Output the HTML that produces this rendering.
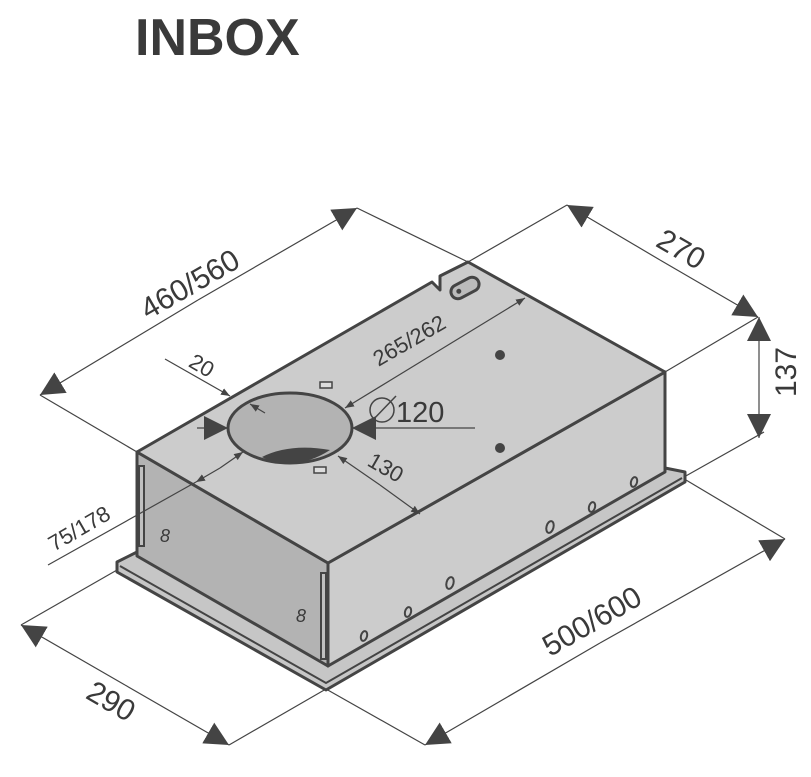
<!DOCTYPE html>
<html><head><meta charset="utf-8"><style>
html,body{margin:0;padding:0;background:#fff;width:811px;height:777px;overflow:hidden}
svg{display:block}
text{font-family:"Liberation Sans",sans-serif;fill:#3a3a3a}
</style></head><body>
<svg width="811" height="777" viewBox="0 0 811 777" xmlns="http://www.w3.org/2000/svg">
<defs>
<marker id="a" viewBox="0 0 10 10" refX="10" refY="5" markerWidth="14" markerHeight="14" markerUnits="userSpaceOnUse" orient="auto"><path d="M0,0L10,5L0,10z" fill="#444"/></marker>
<marker id="as" viewBox="0 0 10 10" refX="10" refY="5" markerWidth="9" markerHeight="9" markerUnits="userSpaceOnUse" orient="auto"><path d="M0,1L10,5L0,9z" fill="#444"/></marker>
<marker id="ab" viewBox="0 0 10 10" refX="10" refY="5" markerWidth="24" markerHeight="24" markerUnits="userSpaceOnUse" orient="auto"><path d="M0,0L10,5L0,10z" fill="#444"/></marker>
</defs>
<text x="135" y="55" font-size="52" font-weight="bold" fill="#333">INBOX</text>

<!-- flange -->
<polygon points="117,562 137,552 328,662 665,468 685,472 685,482 326,690 117,572" fill="#c6c6c6" stroke="#444" stroke-width="3" stroke-linejoin="round"/>
<polyline points="120,566 326,683 682,478" fill="none" stroke="#444" stroke-width="2"/>
<!-- left face -->
<polygon points="137,452 328,563 328,666 137,556" fill="#b3b3b3" stroke="#444" stroke-width="3" stroke-linejoin="round"/>
<!-- right face -->
<polygon points="328,563 665,372 665,472 328,666" fill="#cccccc" stroke="#444" stroke-width="3" stroke-linejoin="round"/>
<!-- top face -->
<polygon points="137,452 432,282 440,290 440,276 468,262 665,372 328,563" fill="#cccccc" stroke="#444" stroke-width="3" stroke-linejoin="round"/>
<!-- slots -->
<rect x="139" y="466" width="5" height="80" fill="#c0c0c0" stroke="#444" stroke-width="2"/>
<rect x="321" y="573" width="5" height="86" fill="#c0c0c0" stroke="#444" stroke-width="2"/>
<!-- oval slot -->
<g transform="rotate(-28 465 288)"><rect x="450" y="281" width="30" height="14" rx="7" fill="#bbb" stroke="#444" stroke-width="3"/><circle cx="458" cy="288" r="2.5" fill="#444"/></g>
<!-- hole -->
<ellipse cx="290" cy="428" rx="62" ry="35" fill="#b3b3b3" stroke="#444" stroke-width="3"/>
<path d="M262,457 Q290,443 330,450 Q310,463 290,463 Q272,463 262,457z" fill="#444"/>
<rect x="320" y="382" width="12" height="6" fill="#ddd" stroke="#444" stroke-width="1.5"/>
<rect x="314" y="467" width="12" height="6" fill="#ddd" stroke="#444" stroke-width="1.5"/>
<circle cx="500" cy="355" r="5" fill="#444"/>
<circle cx="500" cy="448" r="5" fill="#444"/>
<!-- right face holes -->
<g fill="none" stroke="#444" stroke-width="2">
<ellipse cx="634" cy="482" rx="3" ry="5" transform="rotate(15 634 482)"/>
<ellipse cx="592" cy="507" rx="3" ry="5" transform="rotate(15 592 507)"/>
<ellipse cx="550" cy="527" rx="3.5" ry="6" transform="rotate(15 550 527)"/>
<ellipse cx="450" cy="583" rx="3.5" ry="6" transform="rotate(15 450 583)"/>
<ellipse cx="408" cy="612" rx="3" ry="5" transform="rotate(15 408 612)"/>
<ellipse cx="364" cy="636" rx="3" ry="5" transform="rotate(15 364 636)"/>
</g>
<text x="160" y="542" font-size="18" font-style="italic">8</text>
<text x="296" y="622" font-size="18" font-style="italic">8</text>

<!-- dimension lines -->
<g stroke="#444" stroke-width="1.2" fill="none">
<line x1="40" y1="395" x2="137" y2="452"/>
<line x1="357" y1="208" x2="468" y2="262"/>
<line x1="198" y1="300" x2="40" y2="395" marker-end="url(#ab)"/>
<line x1="198" y1="300" x2="357" y2="208" marker-end="url(#ab)"/>
<line x1="468" y1="262" x2="567" y2="205"/>
<line x1="665" y1="372" x2="758" y2="317"/>
<line x1="660" y1="260" x2="567" y2="205" marker-end="url(#ab)"/>
<line x1="660" y1="260" x2="758" y2="317" marker-end="url(#ab)"/>
<line x1="759" y1="378" x2="759" y2="317" marker-end="url(#ab)"/>
<line x1="759" y1="378" x2="759" y2="438" marker-end="url(#ab)"/>
<line x1="684" y1="477" x2="764" y2="432"/>
<line x1="686" y1="480" x2="785" y2="539"/>
<line x1="326" y1="689" x2="425" y2="745"/>
<line x1="600" y1="643" x2="785" y2="539" marker-end="url(#ab)"/>
<line x1="600" y1="643" x2="425" y2="745" marker-end="url(#ab)"/>
<line x1="117" y1="570" x2="21" y2="625"/>
<line x1="326" y1="689" x2="229" y2="745"/>
<line x1="125" y1="685" x2="21" y2="625" marker-end="url(#ab)"/>
<line x1="125" y1="685" x2="229" y2="745" marker-end="url(#ab)"/>
<line x1="48" y1="565" x2="196" y2="482"/>
<line x1="220" y1="468" x2="196" y2="482" marker-end="url(#as)"/>
<line x1="220" y1="468" x2="243" y2="452" marker-end="url(#as)"/>
<line x1="165" y1="359" x2="230" y2="396" marker-end="url(#as)"/>
<line x1="265" y1="413" x2="250" y2="404" marker-end="url(#as)"/>
<line x1="197" y1="428" x2="228" y2="428" marker-end="url(#ab)"/>
<line x1="475" y1="428" x2="352" y2="428" marker-end="url(#ab)"/>
<line x1="435" y1="353" x2="345" y2="408" marker-end="url(#as)"/>
<line x1="435" y1="353" x2="525" y2="298" marker-end="url(#as)"/>
<line x1="380" y1="485" x2="338" y2="456" marker-end="url(#as)"/>
<line x1="380" y1="485" x2="420" y2="514" marker-end="url(#as)"/>
</g>

<text font-size="30" transform="translate(195,293) rotate(-30)" text-anchor="middle">460/560</text>
<text font-size="30" transform="translate(676,258) rotate(30)" text-anchor="middle">270</text>
<text font-size="30" transform="translate(796,372) rotate(-90)" text-anchor="middle">137</text>
<text font-size="30" transform="translate(597,630) rotate(-30)" text-anchor="middle">500/600</text>
<text font-size="30" transform="translate(106,710) rotate(30)" text-anchor="middle">290</text>
<text font-size="22" transform="translate(83,535) rotate(-30)" text-anchor="middle">75/178</text>
<text font-size="22" transform="translate(198,372) rotate(30)" text-anchor="middle">20</text>
<text font-size="22" transform="translate(413,347) rotate(-30)" text-anchor="middle">265/262</text>
<text font-size="22" transform="translate(382,474) rotate(30)" text-anchor="middle">130</text>
<circle cx="382" cy="410" r="12" fill="none" stroke="#444" stroke-width="1.5"/>
<line x1="369" y1="424" x2="396" y2="396" stroke="#444" stroke-width="1.5"/>
<text x="396" y="422" font-size="29">120</text>
</svg>
</body></html>
